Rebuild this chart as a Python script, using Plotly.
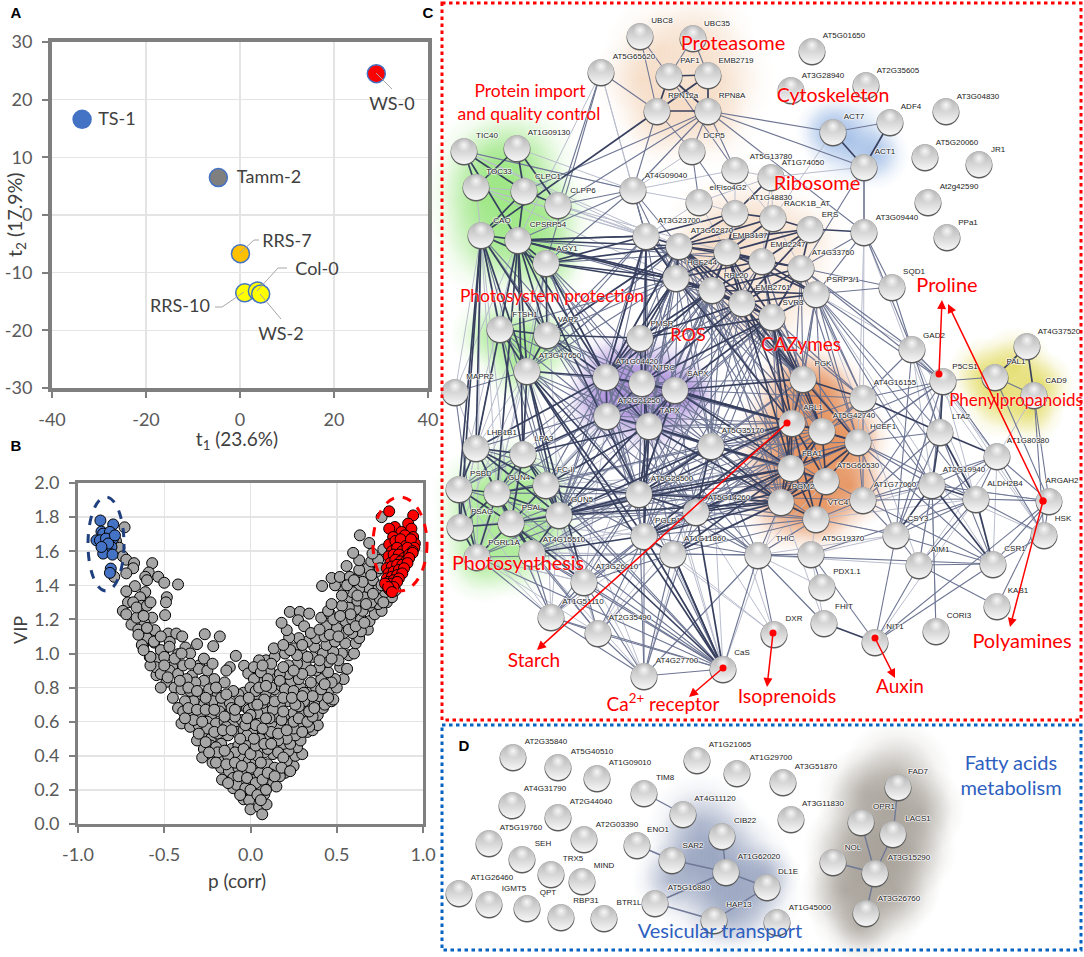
import plotly.graph_objects as go

# ---------- panel A (score plot) ----------
acc_names = ['TS-1', 'Tamm-2', 'WS-0', 'RRS-7', 'RRS-10', 'Col-0', 'WS-2']
acc_t1 = [-33.6, -4.6, 29.0, 0.1, 1.0, 3.7, 4.4]
acc_t2 = [16.6, 6.5, 24.5, -6.7, -13.5, -13.2, -13.7]
acc_colors = ['#4472c4', '#7f7f7f', '#ff0000', '#ffc000', '#ffff00', '#ffff00', '#ffff00']
t1_ticks = [-40, -20, 0, 20, 40]
t1_labels = ['-40', '-20', '0', '20', '40']
t2_ticks = [-30, -20, -10, 0, 10, 20, 30]
t2_labels = ['-30', '-20', '-10', '0', '10', '20', '30']
p_ticks = [-1, -0.5, 0, 0.5, 1]
p_labels = ['-1.0', '-0.5', '0.0', '0.5', '1.0']

# ---------- panel B (VIP vs p(corr)) ----------
grey_points = [
    (-0.73, 1.74), (-0.78, 1.66), (-0.76, 1.62), (-0.74, 1.57), (-0.72, 1.55), (-0.79, 1.45), (-0.675, 1.53), (-0.57, 1.53),
    (-0.68, 1.50), (-0.59, 1.475), (-0.535, 1.45), (-0.50, 1.415), (-0.42, 1.405), (-0.61, 1.45), (-0.72, 1.47), (-0.60, 1.43),
    (-0.67, 1.395), (-0.72, 1.365), (-0.61, 1.36), (-0.485, 1.33), (-0.49, 1.30), (-0.495, 1.225), (-0.64, 1.33), (-0.71, 1.30),
    (-0.74, 1.25), (-0.63, 1.28), (-0.57, 1.21), (-0.615, 1.18), (-0.69, 1.17), (-0.65, 1.14), (-0.555, 1.137), (-0.477, 1.117),
    (-0.43, 1.117), (-0.468, 1.068), (-0.396, 1.10), (-0.622, 1.05), (-0.558, 1.064), (-0.265, 1.113), (-0.178, 1.10), (-0.31, 1.055),
    (-0.216, 1.043), (-0.377, 1.035), (-0.42, 0.996), (-0.085, 0.986), (-0.35, 1.0), (-0.506, 1.01), (-0.584, 0.98), (-0.535, 0.97),
    (-0.454, 0.92), (-0.545, 0.873), (-0.487, 0.834), (-0.298, 0.93), (-0.12, 0.92), (-0.037, 0.928), (-0.14, 0.90), (-0.013, 0.883),
    (-0.72, 1.23), (-0.66, 1.21), (-0.60, 1.09), (-0.63, 1.05), (-0.52, 1.02), (-0.55, 0.92), (-0.50, 0.98), (-0.47, 0.90),
    (-0.42, 0.88), (-0.39, 0.93), (-0.34, 0.87), (-0.30, 0.91), (-0.25, 0.90), (-0.21, 0.85), (-0.27, 0.84), (-0.32, 0.83),
    (-0.37, 0.85), (-0.44, 0.80), (-0.40, 0.79), (-0.35, 0.78), (-0.29, 0.76), (-0.24, 0.79), (-0.19, 0.76), (-0.16, 0.70),
    (-0.22, 0.72), (-0.27, 0.70), (-0.33, 0.72), (-0.38, 0.72), (-0.42, 0.68), (-0.39, 0.66), (-0.34, 0.64), (-0.29, 0.65),
    (-0.23, 0.63), (-0.18, 0.66), (-0.12, 0.65), (-0.07, 0.69), (-0.04, 0.77), (-0.07, 0.76), (-0.02, 0.68), (-0.40, 0.59),
    (-0.35, 0.57), (-0.30, 0.58), (-0.25, 0.60), (-0.20, 0.59), (-0.15, 0.60), (-0.10, 0.59), (-0.05, 0.61), (0.0, 0.62),
    (-0.31, 0.49), (-0.27, 0.53), (-0.23, 0.50), (-0.19, 0.53), (-0.13, 0.52), (-0.08, 0.54), (-0.04, 0.55), (-0.01, 0.48),
    (-0.27, 0.44), (-0.23, 0.46), (-0.17, 0.47), (-0.11, 0.44), (-0.07, 0.46), (-0.03, 0.40), (0.02, 0.43), (-0.28, 0.39),
    (-0.22, 0.40), (-0.17, 0.38), (-0.11, 0.37), (-0.06, 0.39), (-0.01, 0.37), (-0.22, 0.36), (-0.17, 0.33), (-0.125, 0.31),
    (-0.07, 0.33), (-0.03, 0.31), (0.01, 0.29), (-0.165, 0.26), (-0.10, 0.27), (-0.05, 0.25), (-0.10, 0.21), (-0.08, 0.23),
    (-0.03, 0.21), (0.02, 0.26), (-0.04, 0.145), (-0.008, 0.14), (0.0, 0.086), (0.05, 0.10), (0.068, 0.057), (0.093, 0.115),
    (0.08, 0.174), (0.05, 0.22), (0.11, 0.24), (0.13, 0.25), (0.15, 0.22), (0.20, 0.30), (0.25, 0.34), (0.17, 0.28),
    (0.08, 0.31), (0.05, 0.30), (0.10, 0.35), (0.03, 0.36), (0.14, 0.33), (0.21, 0.37), (0.26, 0.40), (0.30, 0.41),
    (0.27, 0.45), (0.22, 0.43), (0.13, 0.41), (0.08, 0.42), (0.05, 0.44), (0.19, 0.47), (0.23, 0.47), (0.29, 0.49),
    (0.33, 0.54), (0.26, 0.52), (0.21, 0.50), (0.16, 0.49), (0.10, 0.50), (0.05, 0.51), (0.01, 0.53), (0.055, 0.50),
    (0.36, 0.55), (0.39, 0.58), (0.34, 0.57), (0.28, 0.58), (0.23, 0.60), (0.17, 0.57), (0.12, 0.59), (0.06, 0.60),
    (0.03, 0.58), (0.15, 0.63), (0.08, 0.66), (0.04, 0.65), (-0.01, 0.67), (0.20, 0.64), (0.25, 0.65), (0.30, 0.66),
    (0.33, 0.69), (0.39, 0.64), (0.42, 0.68), (0.37, 0.72), (0.31, 0.72), (0.28, 0.69), (0.22, 0.72), (0.17, 0.70),
    (0.11, 0.72), (0.04, 0.74), (0.09, 0.77), (0.14, 0.79), (0.21, 0.76), (0.27, 0.75), (0.34, 0.77), (0.40, 0.75),
    (0.43, 0.70), (0.47, 0.72), (0.48, 0.73), (0.45, 0.78), (0.38, 0.80), (0.29, 0.80), (0.23, 0.83), (0.18, 0.81),
    (0.12, 0.80), (0.07, 0.84), (0.02, 0.85), (0.0, 0.80), (0.15, 0.87), (0.22, 0.88), (0.28, 0.85), (0.35, 0.83),
    (0.41, 0.85), (0.50, 0.80), (0.54, 0.85), (0.49, 0.85), (0.45, 0.89), (0.38, 0.90), (0.32, 0.93), (0.27, 0.94),
    (0.22, 0.93), (0.17, 0.88), (0.11, 0.90), (0.09, 0.96), (0.05, 0.96), (0.02, 0.92), (0.14, 0.98), (0.135, 1.03),
    (0.20, 1.0), (0.25, 1.03), (0.30, 1.0), (0.36, 0.98), (0.42, 1.0), (0.45, 0.95), (0.52, 0.92), (0.56, 0.91),
    (0.57, 0.99), (0.53, 1.0), (0.48, 1.01), (0.44, 1.05), (0.37, 1.04), (0.33, 1.07), (0.28, 1.09), (0.224, 1.094),
    (0.21, 1.137), (0.18, 1.18), (0.228, 1.244), (0.286, 1.244), (0.34, 1.234), (0.276, 1.195), (0.311, 1.16), (0.38, 1.09),
    (0.43, 1.10), (0.49, 1.07), (0.55, 1.06), (0.60, 1.0), (0.61, 1.06), (0.63, 1.09), (0.68, 1.14), (0.64, 1.13),
    (0.59, 1.12), (0.54, 1.12), (0.50, 1.15), (0.44, 1.16), (0.41, 1.21), (0.46, 1.234), (0.48, 1.20), (0.45, 1.25),
    (0.55, 1.19), (0.59, 1.20), (0.64, 1.20), (0.69, 1.19), (0.72, 1.23), (0.76, 1.25), (0.74, 1.29), (0.69, 1.28),
    (0.65, 1.25), (0.61, 1.26), (0.57, 1.27), (0.53, 1.28), (0.58, 1.33), (0.62, 1.31), (0.66, 1.33), (0.70, 1.30),
    (0.75, 1.32), (0.79, 1.30), (0.82, 1.33), (0.84, 1.37), (0.78, 1.36), (0.73, 1.38), (0.68, 1.39), (0.63, 1.38),
    (0.59, 1.36), (0.54, 1.37), (0.49, 1.40), (0.415, 1.396), (0.47, 1.443), (0.518, 1.449), (0.576, 1.449), (0.62, 1.44),
    (0.66, 1.45), (0.71, 1.43), (0.76, 1.40), (0.73, 1.48), (0.68, 1.50), (0.63, 1.49), (0.557, 1.513), (0.63, 1.547),
    (0.70, 1.54), (0.74, 1.55), (0.707, 1.586), (0.595, 1.59), (0.688, 1.648), (0.634, 1.693), (0.76, 1.80), (0.77, 1.61),
    (-0.52, 0.80), (-0.45, 0.74), (-0.27, 0.97), (-0.35, 0.94), (-0.22, 0.94), (-0.15, 0.83), (-0.10, 0.78),
    (0.06, 0.89), (0.10, 0.85), (0.03, 0.78), (0.07, 0.71), (0.13, 0.67), (0.18, 0.61), (0.25, 0.56), (0.30, 0.54),
    (0.12, 0.54), (0.07, 0.56), (-0.02, 0.52), (-0.14, 0.57), (-0.20, 0.45), (-0.25, 0.56), (-0.09, 0.42), (-0.04, 0.44),
    (0.00, 0.33), (0.04, 0.40), (0.06, 0.36), (0.12, 0.29), (0.10, 0.44), (0.16, 0.42), (0.19, 0.39), (-0.13, 0.40),
    (-0.19, 0.42), (-0.33, 0.61), (-0.28, 0.60), (-0.09, 0.63), (-0.12, 0.71), (-0.03, 0.58), (0.02, 0.70), (0.11, 0.62),
    (-0.58, 0.93), (-0.52, 0.88), (-0.48, 0.86), (-0.41, 0.84), (-0.36, 0.80), (-0.31, 0.78), (-0.26, 0.74), (-0.20, 0.80),
    (-0.17, 0.74), (-0.14, 0.76), (-0.11, 0.68), (-0.06, 0.72), (-0.01, 0.74), (0.05, 0.80), (0.09, 0.81), (0.17, 0.84),
    (0.20, 0.79), (0.25, 0.78), (0.31, 0.77), (0.36, 0.75), (0.41, 0.79), (0.47, 0.83), (0.43, 0.82), (0.40, 0.92),
    (0.35, 0.90), (0.30, 0.88), (0.25, 0.90), (0.19, 0.92), (0.12, 0.94), (0.07, 0.93), (0.51, 0.96), (0.47, 0.97),
    (0.40, 0.96), (0.33, 0.98), (0.27, 0.99), (0.23, 1.02), (0.19, 1.05), (0.30, 1.05), (0.35, 1.12), (0.40, 1.14),
    (0.46, 1.11), (0.51, 1.10), (0.57, 1.14), (0.61, 1.16), (0.66, 1.18), (0.58, 1.23), (0.52, 1.22), (0.47, 1.29),
    (0.53, 1.34), (0.56, 1.40), (0.62, 1.34), (0.67, 1.29), (0.71, 1.35), (0.77, 1.30), (0.65, 1.42), (0.70, 1.46),
    (0.75, 1.50), (0.60, 1.43), (-0.38, 0.62), (-0.36, 0.68), (-0.31, 0.67), (-0.26, 0.67), (-0.21, 0.67), (-0.15, 0.63),
    (-0.09, 0.67), (-0.30, 0.53), (-0.26, 0.48), (-0.21, 0.54), (-0.16, 0.55), (-0.11, 0.55), (-0.06, 0.50), (-0.24, 0.42),
    (-0.15, 0.43), (-0.20, 0.36), (-0.14, 0.35), (-0.09, 0.36), (-0.05, 0.34), (0.0, 0.41), (0.03, 0.46), (0.02, 0.50),
    (0.08, 0.47), (0.12, 0.47), (0.16, 0.53), (0.21, 0.55), (0.25, 0.60), (0.28, 0.62), (0.33, 0.60), (0.36, 0.63),
    (0.34, 0.66), (0.26, 0.70), (0.19, 0.66), (0.14, 0.72), (0.08, 0.73), (0.0, 0.64), (0.04, 0.70), (-0.02, 0.62),
    (0.09, 0.62), (0.19, 0.74), (0.24, 0.74), (0.30, 0.75), (0.37, 0.68), (0.45, 0.74), (-0.13, 0.24), (-0.07, 0.28),
    (-0.02, 0.27), (0.03, 0.24), (0.07, 0.26), (0.10, 0.30), (0.14, 0.28), (0.18, 0.33), (0.23, 0.31), (0.0, 0.20),
    (0.04, 0.17), (0.06, 0.14), (-0.06, 0.17), (0.09, 0.20), (-0.65, 1.11), (-0.60, 1.15), (-0.56, 1.07), (-0.52, 1.10),
    (-0.47, 1.04), (-0.44, 0.97), (-0.40, 1.00), (-0.58, 0.98), (-0.62, 1.02), (-0.50, 0.93), (-0.68, 1.30), (-0.66, 1.27),
    (-0.60, 1.28), (-0.62, 1.22), (-0.58, 1.30),
]
blue_p = [-0.87, -0.796, -0.864, -0.893, -0.854, -0.815, -0.796, -0.806, -0.835, -0.854, -0.80, -0.81, -0.815, -0.873, -0.838, -0.825, -0.864, -0.786]
blue_vip = [1.78, 1.757, 1.715, 1.664, 1.703, 1.713, 1.674, 1.625, 1.615, 1.586, 1.58, 1.498, 1.473, 1.664, 1.674, 1.645, 1.625, 1.693]
red_p = [0.804, 0.943, 0.914, 0.837, 0.804, 0.933, 0.875, 0.827, 0.895, 0.943, 0.804, 0.856, 0.914, 0.953,
         0.84, 0.87, 0.90, 0.93, 0.95, 0.82, 0.85, 0.88, 0.91, 0.94, 0.80, 0.83, 0.86, 0.89, 0.92, 0.94,
         0.81, 0.84, 0.87, 0.90, 0.92, 0.79, 0.82, 0.85, 0.88, 0.91, 0.80, 0.83, 0.86, 0.89, 0.79, 0.82,
         0.85, 0.88, 0.80, 0.83, 0.86, 0.79, 0.82, 0.85, 0.80, 0.83, 0.81, 0.78, 0.798, 0.82]
red_vip = [1.834, 1.81, 1.762, 1.742, 1.732, 1.732, 1.713, 1.683, 1.693, 1.683, 1.64, 1.654, 1.654, 1.645,
           1.66, 1.67, 1.63, 1.67, 1.62, 1.60, 1.62, 1.60, 1.62, 1.60, 1.57, 1.58, 1.58, 1.56, 1.58, 1.59,
           1.53, 1.55, 1.54, 1.54, 1.56, 1.50, 1.51, 1.52, 1.52, 1.53, 1.47, 1.48, 1.49, 1.50, 1.44, 1.45,
           1.46, 1.47, 1.42, 1.43, 1.44, 1.40, 1.41, 1.42, 1.38, 1.39, 1.37, 1.41, 1.39, 1.36]

# ---------- panels C and D (STRING network), node centres read in page pixels ----------
node_names = [
    'UBC8', 'UBC35', 'AT5G65620', 'PAF1', 'EMB2719', 'RPN12a', 'RPN8A', 'DCP5', 'AT5G13780', 'TIC40',
    'AT1G09130', 'TOC33', 'CLPC1', 'CLPP6', 'AT4G09040', 'eIFiso4G2', 'AT1G48830', 'CAO', 'CPSRP54', 'AGY1',
    'AT3G23700', 'AT3G62870', 'EMB3137', 'EMB2247', 'HCF244', 'RPL20', 'EMB2761', 'SVR3', 'FTSH1', 'VAR2',
    'PMSR', 'AT5G01650', 'AT3G28940', 'AT2G35605', 'ACT7', 'ADF4', 'ACT1', 'AT3G04830', 'AT5G20060', 'JR1',
    'At2g42590', 'PPa1', 'AT1G74050', 'RACK1B_AT', 'ERS', 'AT3G09440', 'AT4G33760', 'PSRP3/1', 'SQD1', 'GAD2',
    'AT4G37520', 'AT3G47650', 'MAPR2', 'AT1G04420', 'NTRC', 'SAPX', 'AT2G21250', 'TAPX', 'AT5G35170', 'LHB1B1',
    'LPA3', 'FC-II', 'PSBD', 'GUN4', 'AT5G28500', 'AT5G14260', 'GUN5', 'PSAG', 'PSAL', 'PGLP1',
    'AT1G11860', 'PGRL1A', 'AT4G15510', 'THIC', 'AT3G26010', 'AT1G51110', 'AT2G35490', 'AT4G27700', 'CaS', 'PGK',
    'AT4G16155', 'P5CS1', 'PAL1', 'CAD9', 'APL1', 'AT5G42740', 'HCEF1', 'LTA2', 'AT1G80380', 'FBA1',
    'AT5G66530', 'AT2G19940', 'PGM2', 'AT1G77060', 'ALDH2B4', 'ARGAH2', 'VTC4', 'CSY3', 'HSK', 'AT5G19370',
    'AIM1', 'CSR1', 'PDX1.1', 'KAB1', 'FHIT', 'CORI3', 'DXR', 'NIT1',
    'AT2G35840', 'AT5G40510', 'AT1G09010', 'AT1G21065', 'AT1G29700', 'AT3G51870', 'TIM8', 'AT4G31790', 'AT2G44040', 'AT4G11120',
    'AT3G11830', 'FAD7', 'OPR1', 'LACS1', 'AT5G19760', 'AT2G03390', 'ENO1', 'CIB22', 'SEH', 'SAR2',
    'NOL', 'TRX5', 'MIND', 'AT1G62020', 'AT3G15290', 'DL1E', 'AT1G26460', 'IGMT5', 'QPT', 'RBP31',
    'BTR1L', 'AT5G16880', 'HAP13', 'AT1G45000', 'AT3G26760',
]
node_x = [
    640, 693, 601, 669, 708, 657, 708, 692, 735, 464,
    517, 476, 524, 558, 633, 699, 735, 481, 518, 546,
    646, 679, 727, 762, 676, 712, 742, 772, 500, 547,
    640, 812, 791, 866, 833, 890, 864, 946, 925, 979,
    928, 947, 771, 773, 810, 864, 801, 816, 892, 912,
    1027, 527, 455, 606, 642, 675, 607, 649, 711, 476,
    523, 546, 459, 497, 639, 696, 559, 460, 511, 644,
    673, 477, 532, 758, 584, 551, 598, 644, 723, 803,
    863, 943, 995, 1034, 792, 822, 858, 940, 997, 791,
    826, 932, 781, 863, 976, 1049, 816, 896, 1044, 811,
    919, 993, 822, 997, 824, 936, 774, 875,
    513, 558, 597, 697, 737, 783, 644, 512, 558, 683,
    791, 898, 861, 893, 489, 584, 637, 722, 522, 672,
    833, 551, 582, 726, 875, 767, 459, 489, 527, 561,
    604, 655, 714, 777, 866,
]
node_y = [
    36, 38, 72, 76, 75, 111, 111, 151, 170, 151,
    148, 187, 191, 205, 190, 202, 213, 235, 240, 263,
    236, 246, 252, 261, 278, 290, 303, 317, 329, 335,
    338, 51, 90, 85, 132, 122, 167, 111, 157, 164,
    202, 237, 177, 218, 229, 232, 268, 294, 287, 349,
    346, 371, 392, 377, 383, 390, 416, 426, 446, 448,
    454, 485, 489, 493, 494, 512, 515, 527, 523, 536,
    554, 557, 553, 555, 582, 617, 633, 676, 669, 379,
    398, 381, 377, 395, 423, 431, 442, 432, 456, 468,
    481, 485, 502, 500, 499, 501, 519, 535, 535, 554,
    565, 564, 587, 606, 623, 631, 634, 642,
    757, 767, 778, 760, 773, 782, 793, 805, 817, 814,
    819, 787, 822, 834, 843, 839, 845, 836, 859, 860,
    862, 874, 881, 872, 873, 887, 893, 904, 908, 917,
    918, 903, 920, 922, 913,
]
label_x = [
    662, 717, 634, 690, 736, 683, 732, 714, 771, 487,
    549, 499, 548, 583, 666, 728, 771, 502, 548, 567,
    679, 712, 750, 788, 702, 736, 773, 793, 525, 568,
    662, 844, 823, 898, 854, 911, 885, 978, 957, 998,
    959, 968, 803, 807, 830, 897, 833, 843, 914, 934,
    1059, 560, 480, 637, 664, 698, 639, 670, 743, 502,
    544, 566, 481, 519, 672, 729, 582, 482, 532, 668,
    705, 504, 564, 785, 617, 583, 630, 677, 742, 823,
    895, 965, 1016, 1056, 813, 854, 883, 961, 1028, 812,
    858, 964, 803, 895, 1005, 1062, 838, 918, 1063, 843,
    940, 1015, 847, 1018, 844, 959, 794, 895,
    546, 592, 630, 730, 771, 816, 665, 545, 591, 715,
    823, 918, 884, 918, 521, 617, 658, 745, 543, 693,
    853, 573, 604, 759, 909, 788, 492, 514, 548, 586,
    629, 689, 739, 810, 899,
]
label_y = [
    21, 24, 57, 61, 61, 96, 96, 136, 157, 136,
    133, 172, 177, 191, 176, 188, 198, 221, 225, 249,
    221, 231, 236, 245, 263, 276, 288, 303, 315, 320,
    324, 36, 76, 71, 117, 107, 152, 97, 143, 150,
    187, 223, 163, 204, 215, 218, 253, 280, 272, 336,
    332, 356, 377, 362, 368, 374, 401, 411, 431, 433,
    439, 470, 474, 478, 479, 498, 500, 512, 508, 521,
    539, 543, 540, 539, 567, 602, 618, 661, 653, 364,
    383, 367, 362, 381, 408, 416, 427, 417, 441, 454,
    466, 470, 487, 485, 484, 481, 503, 519, 519, 539,
    550, 549, 572, 591, 607, 616, 619, 627,
    742, 752, 763, 745, 758, 767, 778, 789, 802, 799,
    804, 772, 807, 819, 828, 825, 830, 821, 844, 846,
    848, 859, 866, 857, 858, 872, 878, 889, 893, 901,
    903, 888, 905, 908, 899,
]

# edges per line width class, "source: targets"
strong_edges = """
CAO: CPSRP54 AGY1 FTSH1 PSBD LHB1B1 AT3G47650 VAR2 PSAG
CPSRP54: AGY1 FTSH1 VAR2 AT3G47650 LPA3 GUN4 AT3G23700 AT3G62870 HCF244 RPL20 AT5G28500 AT1G04420
AGY1: AT3G62870 HCF244 RPL20 AT3G23700 AT1G04420 VAR2
TIC40: TOC33 CLPC1 CPSRP54
AT1G09130: CLPC1 CLPP6 TOC33
CLPC1: CLPP6 CPSRP54 CAO
FTSH1: VAR2 AT3G47650 LHB1B1 LPA3
VAR2: AT3G47650 PMSR AT1G04420 AT3G62870
AT3G47650: LPA3 GUN5 AT1G04420 AT5G28500 PGLP1 CaS AT3G26010
LHB1B1: LPA3 PSBD GUN4 GUN5 FC-II AT1G04420
LPA3: FC-II GUN4 PSAL GUN5 AT2G21250 TAPX
PSBD: GUN4 PSAG PSAL PGRL1A
GUN4: FC-II PSAG PSAL GUN5 PGRL1A AT4G15510
FC-II: GUN5 PSAL AT5G28500 TAPX
GUN5: PSAL AT4G15510 AT5G28500 PGM2 FBA1 AT5G35170 SAPX
PSAG: PSAL PGRL1A
PSAL: PGRL1A AT4G15510 AT3G26010
AT5G28500: APL1 FBA1 PGM2 AT5G35170 SAPX TAPX AT5G14260
PGLP1: FBA1 PGM2 APL1 AT5G14260 TAPX AT1G11860 CaS AT4G15510
AT1G04420: NTRC SAPX AT2G21250 TAPX AT3G62870 RPL20 HCF244
NTRC: SAPX AT2G21250 TAPX APL1 EMB2761 SVR3
SAPX: TAPX AT2G21250 APL1 FBA1 AT5G42740 SVR3 PGK
AT2G21250: TAPX
TAPX: AT5G35170 FBA1 PGM2
PMSR: AT1G04420 NTRC HCF244 RPL20 EMB2761 SVR3
AT3G62870: EMB3137 EMB2247 HCF244 RPL20 EMB2761 AT1G48830 RACK1B_AT ERS SVR3
EMB3137: EMB2247 HCF244 RPL20 EMB2761 AT1G48830 RACK1B_AT ERS AT4G33760 PSRP3/1 SVR3 APL1 FBA1
EMB2247: RPL20 EMB2761 RACK1B_AT ERS AT4G33760 PSRP3/1 SVR3 HCF244
HCF244: RPL20 EMB2761 SVR3 AT3G23700 APL1
RPL20: EMB2761 SVR3 PSRP3/1 AT4G33760
EMB2761: SVR3 PSRP3/1 AT4G33760 ERS
SVR3: PSRP3/1 AT4G33760 APL1 FBA1 AT5G42740
ERS: RACK1B_AT AT4G33760 AT3G09440
AT1G48830: RACK1B_AT AT1G74050 AT3G23700
APL1: AT5G42740 FBA1 PGM2 AT5G66530 PGK HCEF1 VTC4
AT5G42740: FBA1 PGM2 AT5G66530 HCEF1 PGK
FBA1: AT5G66530 PGM2 HCEF1 VTC4
AT5G66530: PGM2 HCEF1 VTC4
PGM2: VTC4 HCEF1
PGK: HCEF1 AT4G16155 EMB2761 SVR3 AT3G62870
AT5G35170: APL1 FBA1 PGM2 AT5G14260
AT5G14260: FBA1 PGM2 AT5G66530
AT1G11860: FBA1 PGM2 CaS
AT3G23700: AT1G04420 PGLP1 AT3G62870 CPSRP54
PAF1: EMB2719 RPN12a RPN8A
RPN12a: RPN8A EMB2719 CAO
RPN8A: EMB2719
ACT7: ACT1
ADF4: ACT1
AT4G16155: LTA2
P5CS1: LTA2
LTA2: AT2G19940 ALDH2B4 AT1G80380
AT2G19940: CSY3 ALDH2B4 CSR1
ALDH2B4: CSR1
FHIT: NIT1
CaS: AT1G11860 AT5G14260 GUN5
AT4G37520: PAL1 CAD9
"""
medium_edges = """
UBC8: PAF1 RPN12a
UBC35: PAF1 EMB2719
AT5G65620: RPN12a CLPP6 AGY1
RPN12a: AT4G09040 DCP5
RPN8A: DCP5 AT5G13780 AT3G09440 ACT7 AT4G09040 CLPC1 CLPP6 ACT1
PAF1: AT5G13780
DCP5: eIFiso4G2 AT1G48830
AT4G09040: TIC40 AT3G23700 CLPP6 AGY1 CPSRP54 HCF244 AT3G62870
AT3G09440: SQD1 AT4G33760 PSRP3/1 ACT1 GAD2
ACT7: ADF4
ACT1: AT3G09440 SVR3
SQD1: PSRP3/1 GAD2 AT4G33760
AT4G33760: GAD2 P5CS1 AT4G16155
PSRP3/1: P5CS1 AT4G16155 LTA2 AT2G19940 ALDH2B4
GAD2: P5CS1 LTA2 AT4G16155 CSY3
P5CS1: AT1G80380 AT2G19940 AT1G77060 HCEF1 AT5G42740 PAL1
PAL1: CAD9 ARGAH2
CAD9: ARGAH2 HSK
ALDH2B4: ARGAH2 HSK CSY3 AT1G77060 HCEF1 AT5G19370 AT1G80380
AT1G80380: ARGAH2 AT2G19940 CSY3 AT1G77060 HSK
ARGAH2: CSR1 HSK AT2G19940 NIT1
CSR1: CSY3 AIM1 HSK AT1G77060 HCEF1 LTA2
AIM1: CSY3 AT2G19940 NIT1 KAB1 ALDH2B4
CSY3: NIT1 LTA2 AT1G77060 VTC4 P5CS1
AT1G77060: HCEF1 AT2G19940 LTA2 VTC4 AT5G66530
THIC: VTC4 PGM2 DXR AT5G19370 FHIT AT5G14260 AT1G11860 CSR1
AT5G19370: PDX1.1 NIT1
CaS: AT4G27700 AT2G35490 AT1G51110 AT3G26010 PGRL1A THIC AT5G28500 AT4G15510 FC-II PSAL GUN4 LPA3
AT4G27700: AT3G26010 AT1G51110 AT2G35490 AT5G28500 PGLP1 AT1G11860 AT5G14260 THIC
AT1G51110: AT2G35490 PGRL1A AT4G15510 AT3G26010 AT5G28500 PGLP1
AT2G35490: AT3G26010 PGLP1 AT1G11860 AT4G15510 PSAL
AT3G26010: AT4G15510 PGLP1 AT1G11860 AT5G14260 AT5G28500 GUN5
MAPR2: PGRL1A AT3G47650
CORI3: AT2G19940
NIT1: CSR1
KAB1: ARGAH2
AT3G47650: AT2G21250 NTRC AT5G35170 THIC AT3G62870
LHB1B1: AT1G51110 SAPX AT5G28500
GUN4: AT1G04420 AT2G21250 AT5G35170 AT5G28500
PSBD: AT1G04420 AT2G21250 LPA3 GUN5
PGRL1A: GUN5 AT5G28500 AT1G11860
AT1G04420: APL1 EMB2761 AT5G28500 AT5G35170 PGLP1 THIC EMB3137 AT3G23700 FBA1 PGM2 AT5G14260
AT2G21250: AT5G28500 AT5G14260 PGLP1 FBA1 SVR3 RPL20 HCF244 APL1 PGM2 AT5G35170
SAPX: HCEF1 AT4G16155 EMB2761 AT5G35170 PGM2 EMB3137 EMB2247 RPL20 AT5G28500 AT5G14260 AT5G66530
TAPX: APL1 AT5G14260 PGLP1 AT1G11860 SVR3 RPL20 AT5G42740 AT5G66530
AT5G35170: AT5G42740 HCEF1 AT5G66530 THIC VTC4 AT1G11860 SVR3 PGK RPL20 EMB3137
AT5G28500: AT5G42740 AT5G66530 HCEF1 VTC4 AT1G77060 THIC
PGLP1: AT5G42740 AT5G66530 HCEF1 VTC4 THIC EMB2761 SVR3 RPL20
AT1G11860: APL1 AT5G66530 VTC4 THIC
RPL20: AT1G04420 NTRC SAPX TAPX AT5G35170 FBA1 APL1 PGK PGM2 AT5G42740 AT5G28500
HCF244: AT1G04420 NTRC AT2G21250 AT5G28500 GUN5 AT3G47650 VAR2 FTSH1 PGK FBA1 AT5G35170 AT5G42740
AT3G23700: HCF244 RPL20 EMB2761 AT4G09040 VAR2 AT3G47650 AT5G28500 APL1 NTRC SAPX TAPX AT2G21250 GUN5 PGK
AT3G62870: AT1G04420 NTRC SAPX VAR2 AT3G47650 GUN5 FC-II FBA1 PGM2 AT5G28500 AT5G35170 TAPX
EMB2761: AT5G35170 AT5G28500 PGM2 AT5G42740 HCEF1 AT4G16155
SVR3: HCEF1 AT4G16155 PGM2 AT5G66530 AT5G28500 GUN5
EMB3137: SAPX TAPX AT5G42740 HCEF1
PGK: AT5G35170 AT5G28500 RPL20 HCF244
AT4G16155: APL1 AT5G42740 FBA1 AT1G77060 AT2G19940 P5CS1
HCEF1: P5CS1 AT2G19940 CSY3 LTA2 AT5G14260
AGY1: AT5G28500 AT2G21250 AT3G47650 EMB3137 NTRC TAPX SAPX
CPSRP54: NTRC HCF244 EMB2247 EMB2761
NTRC: RPL20 HCF244 EMB3137 PGK AT5G28500 AT5G35170 FBA1
GUN5: APL1 AT5G14260 AT5G66530 HCEF1 AT1G04420 NTRC
FC-II: APL1 PGM2 PGLP1 NTRC
PSAL: FBA1 AT5G14260 AT5G35170
AT4G15510: FBA1 APL1 AT5G35170
AT5G14260: APL1 AT5G42740 VTC4 SVR3
EMB2247: APL1 PGK FBA1 AT5G42740
AT4G33760: PGK APL1 HCEF1
PSRP3/1: PGK APL1 AT5G42740 HCEF1 FBA1
VAR2: NTRC SAPX AT2G21250 AT5G28500 TAPX
FTSH1: AT1G04420 AT2G21250 AT5G28500 GUN5
CAO: AT1G04420 AT2G21250 GUN5
"""
light_edges = """
TIC40: AT4G09040 AT3G23700 AT3G62870
TOC33: CLPC1 CAO
AT5G65620: AT4G09040 AT3G23700 CPSRP54
AT4G09040: AT5G13780 eIFiso4G2 DCP5 AT1G09130 RPN8A
CLPP6: AT3G23700 AT3G62870 CLPC1 EMB3137
TOC33: AT3G23700 AT3G62870 HCF244
CAO: PGRL1A MAPR2 LPA3 GUN4 PSAL
CPSRP54: PSBD MAPR2 PSAG
AGY1: PSAL LHB1B1 GUN4 GUN5
eIFiso4G2: AT3G23700 AT1G48830 AT1G74050 EMB3137
AT5G13780: AT1G74050 AT1G48830 RACK1B_AT
AT1G74050: RACK1B_AT ACT1 EMB2247
RACK1B_AT: ACT7 EMB3137 AT4G33760
AT3G09440: AT1G77060 LTA2 HCEF1
PSRP3/1: GAD2 AT3G09440 AIM1 CSR1
GAD2: AT2G19940 ALDH2B4 HSK AT1G80380
P5CS1: CSY3 AT1G80380 CSR1 HSK
AT2G19940: HSK ARGAH2 AIM1 CORI3 HCEF1
AT1G80380: CSR1 AIM1 CAD9
ALDH2B4: LTA2 AIM1 NIT1
VTC4: CSY3 AT2G19940 ALDH2B4 THIC
THIC: CSY3 AIM1 PDX1.1 AT5G66530 AT4G15510
AT5G19370: VTC4 CSY3 FHIT
DXR: AT5G14260 PGLP1 AT1G11860 AT5G35170
FHIT: THIC PGM2
CaS: AT5G35170 PGM2 TAPX AT2G21250 PGLP1 NTRC
AT4G27700: AT4G15510 AT5G35170 GUN5 AT3G47650
AT1G51110: GUN5 PSAL FC-II AT5G14260 PSBD PSAG
AT2G35490: PGRL1A GUN5 FC-II AT5G14260 AT5G35170
AT3G26010: FC-II GUN4 PSAL PGRL1A AT2G21250 TAPX
AT4G15510: AT5G14260 AT5G28500 AT1G11860 TAPX PGM2
PGRL1A: AT3G47650 LPA3 AT3G26010 AT2G21250
PSAG: AT3G47650 GUN5 FTSH1
LHB1B1: AT3G47650 MAPR2 AT3G26010 PGLP1
LPA3: AT5G14260 AT1G04420 SAPX PGLP1
FC-II: AT1G04420 AT2G21250 SAPX AT5G35170 FBA1
PSAL: AT5G28500 PGLP1 TAPX AT2G21250
"""
d_edges = """
TIM8: AT4G11120
ENO1: SAR2
SAR2: AT1G62020
CIB22: AT1G62020
AT1G62020: DL1E AT5G16880
AT5G16880: HAP13
DL1E: HAP13
FAD7: LACS1
LACS1: AT3G15290
OPR1: AT3G15290
NOL: AT3G15290
AT3G15290: AT3G26760
"""

# soft background clusters: centre x, centre y, diameter
blob_green_x = [490, 520, 482, 515, 545, 490, 525, 548, 492, 520, 545, 520, 480, 510, 540, 480, 515, 545, 482, 515]
blob_green_y = [165, 160, 200, 200, 215, 240, 245, 262, 335, 340, 345, 368, 495, 480, 490, 530, 520, 530, 562, 558]
blob_green_s = [85, 85, 85, 90, 75, 85, 85, 60, 60, 65, 60, 55, 70, 70, 60, 70, 75, 60, 60, 60]
blob_peach_x = [660, 700, 720, 680, 640, 660, 710, 720, 760, 800, 700, 740, 790, 740, 770]
blob_peach_y = [50, 40, 80, 100, 80, 120, 120, 230, 220, 240, 260, 270, 290, 310, 325]
blob_peach_s = [80, 80, 80, 90, 70, 70, 70, 80, 80, 70, 70, 90, 70, 60, 50]
blob_sky_x = [850, 830, 875]
blob_sky_y = [140, 130, 155]
blob_sky_s = [70, 50, 50]
blob_purple_x = [610, 640, 670, 600, 630, 660, 690]
blob_purple_y = [375, 375, 385, 405, 410, 415, 395]
blob_purple_s = [65, 70, 65, 55, 65, 60, 45]
blob_orange_x = [800, 825, 790, 825, 850, 785, 820, 850, 790, 820]
blob_orange_y = [385, 395, 425, 430, 440, 465, 470, 485, 505, 510]
blob_orange_s = [65, 65, 75, 80, 60, 80, 80, 65, 70, 65]
blob_yellow_x = [985, 1015, 1040, 1000, 1030]
blob_yellow_y = [375, 365, 385, 400, 410]
blob_yellow_s = [55, 55, 50, 55, 50]
blob_steel_x = [700, 715, 690, 735, 710, 750, 730, 670, 765]
blob_steel_y = [825, 850, 860, 870, 890, 895, 915, 880, 875]
blob_steel_s = [75, 85, 70, 85, 85, 75, 65, 55, 50]
blob_taupe_x = [897, 890, 882, 875, 866, 865, 920, 855, 908, 845, 895, 860]
blob_taupe_y = [775, 810, 840, 870, 905, 795, 810, 850, 850, 890, 890, 925]
blob_taupe_s = [80, 90, 100, 100, 85, 70, 65, 75, 70, 65, 65, 50]

# annotations on the network
red_labels = ['Protein import', 'and quality control', 'Proteasome', 'Cytoskeleton', 'Ribosome', 'Photosystem protection',
              'ROS', 'CAZymes', 'Proline', 'Phenylpropanoids', 'Photosynthesis', 'Starch', 'Ca<sup>2+</sup> receptor',
              'Isoprenoids', 'Auxin', 'Polyamines']
red_label_x = [530, 529, 733, 833, 817, 552, 688, 801, 947, 1016, 518, 534, 663, 787, 900, 1022]
red_label_y = [93, 116, 45, 97, 185, 298, 336, 346, 287, 402, 565, 662, 706, 698, 688, 643]
red_label_size = [17.5, 17.5, 20, 19.5, 20, 17.5, 18, 19, 20, 17, 19.8, 19, 19, 19.5, 19, 20]
blue_labels = ['Fatty acids', 'metabolism', 'Vesicular transport']
blue_label_x = [1011, 1011, 720]
blue_label_y = [765, 790, 933]
# arrow start (red dot) and tip
arrow_x0 = [787, 723, 773, 875, 1043, 939, 1043]
arrow_y0 = [423, 668, 633, 638, 501, 374, 501]
arrow_x1 = [537, 689, 767, 895, 1010, 942, 948]
arrow_y1 = [650, 697, 687, 678, 627, 300, 304]

pos = {n: (x, y) for n, x, y in zip(node_names, node_x, node_y)}


def edge_xy(table):
    xs, ys = [], []
    for row in table.strip().splitlines():
        src, targets = row.split(':')
        for t in targets.split():
            xs += [pos[src][0], pos[t][0], None]
            ys += [pos[src][1], pos[t][1], None]
    return xs, ys


def blob(xs, ys, sizes, rgb, alpha):
    # two nested radial passes give a flat core with a soft edge
    return [go.Scatter(x=xs, y=ys, mode='markers', xaxis='x3', yaxis='y3', hoverinfo='skip',
                       marker=dict(size=[s * k for s in sizes], color=f'rgba({rgb},0)', line_width=0,
                                   gradient=dict(type='radial', color=f'rgba({rgb},{alpha})')))
            for k in (1.4, 1.0)]


def page_text(texts, xs, ys, size, color, font='Lato', shadow=None):
    return go.Scatter(x=xs, y=ys, text=texts, mode='text', xaxis='x3', yaxis='y3', hoverinfo='skip',
                      textposition='middle center',
                      textfont=dict(family=font, size=size, color=color, shadow=shadow))


grey_p = [p[0] for p in grey_points]
grey_vip = [p[1] for p in grey_points]

W, H = 1084, 957
data = []

# Panel A
for i, name in enumerate(acc_names):
    data.append(go.Scatter(x=[acc_t1[i]], y=[acc_t2[i]], mode='markers', name=name, xaxis='x', yaxis='y',
                           marker=dict(size=18, color=acc_colors[i], line=dict(color='#4472c4', width=1.5))))

# Panel B
data.append(go.Scatter(x=grey_p, y=grey_vip, mode='markers', xaxis='x2', yaxis='y2',
                       marker=dict(size=11, color='#a6a6a6', line=dict(color='#000000', width=1))))
data.append(go.Scatter(x=blue_p, y=blue_vip, mode='markers', xaxis='x2', yaxis='y2',
                       marker=dict(size=11, color='#4472c4', line=dict(color='#000000', width=1))))
data.append(go.Scatter(x=red_p, y=red_vip, mode='markers', xaxis='x2', yaxis='y2',
                       marker=dict(size=11, color='#ff0000', line=dict(color='#000000', width=1))))

# Background clusters
data += blob(blob_green_x, blob_green_y, blob_green_s, '135,225,105', 0.5)
data += blob(blob_peach_x, blob_peach_y, blob_peach_s, '240,200,165', 0.4)
data += blob(blob_sky_x, blob_sky_y, blob_sky_s, '140,175,225', 0.6)
data += blob(blob_purple_x, blob_purple_y, blob_purple_s, '140,100,205', 0.5)
data += blob(blob_orange_x, blob_orange_y, blob_orange_s, '225,130,70', 0.7)
data += blob(blob_yellow_x, blob_yellow_y, blob_yellow_s, '215,205,40', 0.55)
data += blob(blob_steel_x, blob_steel_y, blob_steel_s, '125,140,175', 0.4)
data += blob(blob_taupe_x, blob_taupe_y, blob_taupe_s, '150,143,133', 0.45)

# Network edges
for table, color, width in [(light_edges, '#b9bdcd', 1.0), (medium_edges, '#6d7593', 1.1),
                            (strong_edges, '#38405f', 1.7), (d_edges, '#6f7896', 1.4)]:
    ex, ey = edge_xy(table)
    data.append(go.Scatter(x=ex, y=ey, mode='lines', xaxis='x3', yaxis='y3', hoverinfo='skip',
                           line=dict(color=color, width=width)))

# Network nodes: shadow rim, shaded body, highlight
rim_y = [y + 1 for y in node_y]
glint_y = [y - 6 for y in node_y]
data.append(go.Scatter(x=node_x, y=rim_y, mode='markers', xaxis='x3', yaxis='y3', hoverinfo='skip',
                       marker=dict(size=27, color='#5c5c5c', line_width=0)))
data.append(go.Scatter(x=node_x, y=node_y, mode='markers', xaxis='x3', yaxis='y3', text=node_names,
                       marker=dict(size=26, color='#b4b4b4', line_width=0,
                                   gradient=dict(type='vertical', color='#f6f6f6'))))
data.append(go.Scatter(x=node_x, y=glint_y, mode='markers', xaxis='x3', yaxis='y3', hoverinfo='skip',
                       marker=dict(size=14, color='rgba(255,255,255,0)', line_width=0,
                                   gradient=dict(type='radial', color='rgba(255,255,255,0.85)'))))

halo = '1px 0 1px #fff, -1px 0 1px #fff, 0 1px 1px #fff, 0 -1px 1px #fff'
data.append(page_text(node_names, label_x, label_y, 8, '#222222', 'Liberation Sans', halo))

# Panel A leader lines and labels
leader_x = [376, 392, None, 240, 254, 259, None, 257, 278, 287, None, 244, 222, 215, None, 260, 281]
leader_y = [73, 89, None, 253, 240, 240, None, 291, 268, 268, None, 292, 307, 307, None, 294, 319]
data.append(go.Scatter(x=leader_x, y=leader_y, mode='lines', xaxis='x3', yaxis='y3', hoverinfo='skip',
                       line=dict(color='#a6a6a6', width=1)))
acc_label_x = [117, 269, 392, 287, 180, 317, 281]
acc_label_y = [120, 178, 105, 242, 307, 270, 335]
data.append(page_text(acc_names, acc_label_x, acc_label_y, 18, '#404040'))

# Titles and panel letters
data.append(page_text(['t<sub>1</sub> (23.6%)'], [237], [441], 19, '#404040'))
data.append(page_text(['p (corr)'], [237], [883], 19, '#404040'))
data.append(page_text(['<b>A</b>', '<b>B</b>', '<b>C</b>', '<b>D</b>'], [16, 16, 428, 464], [14, 447, 14, 747],
                      15, '#000000', 'Liberation Sans'))

# Red arrows' start dots and labels
data.append(go.Scatter(x=arrow_x0, y=arrow_y0, mode='markers', xaxis='x3', yaxis='y3', hoverinfo='skip',
                       marker=dict(size=7, color='#ff0000', line_width=0)))
data.append(page_text(red_labels, red_label_x, red_label_y, red_label_size, '#ff0000', shadow='0 0 2px #fff'))
data.append(page_text(blue_labels, blue_label_x, blue_label_y, 20, '#2e5fc0'))

axis_font = dict(family='Lato', size=18, color='#595959')
axis_common = dict(showline=True, linecolor='#7f7f7f', mirror=True, gridcolor='#e4e4e4', gridwidth=1.5,
                   ticks='outside', tickcolor='#7f7f7f', ticklen=6, tickwidth=2, automargin=False,
                   tickfont=axis_font, zeroline=False, ticklabelstandoff=6)

layout = {
    'width': W, 'height': H,
    'margin': dict(l=0, r=0, t=0, b=0),
    'showlegend': False,
    'paper_bgcolor': '#ffffff',
    'plot_bgcolor': 'rgba(0,0,0,0)',
    'xaxis': dict(domain=[52 / W, 428 / W], range=[-40, 40], tickvals=t1_ticks, ticktext=t1_labels, anchor='y', linewidth=4, **axis_common),
    'yaxis': dict(domain=[1 - 388 / H, 1 - 42 / H], range=[-30, 30], tickvals=t2_ticks, ticktext=t2_labels, anchor='x', linewidth=4, **axis_common),
    'xaxis2': dict(domain=[78 / W, 423 / W], range=[-1, 1], tickvals=p_ticks, ticktext=p_labels, anchor='y2', linewidth=3, **axis_common),
    'yaxis2': dict(domain=[1 - 824 / H, 1 - 483 / H], range=[0, 2], tick0=0, dtick=0.2, tickformat='.1f', anchor='x2', linewidth=3, **axis_common),
    'xaxis3': dict(domain=[0, 1], range=[0, W], visible=False, anchor='y3', fixedrange=True, automargin=False),
    'yaxis3': dict(domain=[0, 1], range=[H, 0], visible=False, anchor='x3', fixedrange=True, automargin=False),
    'shapes': [
        dict(type='circle', xref='x3', yref='y3', x0=88, x1=124, y0=497, y1=591, line=dict(color='#1f3f7f', width=3, dash='dash')),
        dict(type='circle', xref='x3', yref='y3', x0=373, x1=427, y0=497, y1=591, line=dict(color='#ff0000', width=3, dash='dash')),
        dict(type='rect', xref='x3', yref='y3', x0=442, x1=1081, y0=3, y1=720, line=dict(color='#ff0000', width=3, dash='3.5px,3.5px')),
        dict(type='rect', xref='x3', yref='y3', x0=442, x1=1081, y0=725, y1=950, line=dict(color='#0563c1', width=3, dash='3.5px,3.5px')),
    ],
    'annotations': [
        dict(text='t<sub>2</sub> (17.9%)', xref='x3', yref='y3', x=16, y=215, textangle=-90, showarrow=False,
             font=dict(family='Lato', size=19.5, color='#404040')),
        dict(text='VIP', xref='x3', yref='y3', x=20, y=630, textangle=-90, showarrow=False,
             font=dict(family='Lato', size=18, color='#404040')),
    ] + [
        dict(xref='x3', yref='y3', axref='x3', ayref='y3', x=x1, y=y1, ax=x0, ay=y0, text='', showarrow=True,
             arrowhead=2, arrowsize=1.2, arrowwidth=1.5, arrowcolor='#ff0000')
        for x0, y0, x1, y1 in zip(arrow_x0, arrow_y0, arrow_x1, arrow_y1)
    ],
}

fig = go.Figure(data=data, layout=layout)
# the page's default body margin would push the fixed-size figure out of the window
fig.write_html("out.html", config={'staticPlot': True}, post_script="document.body.style.margin = '0';")
